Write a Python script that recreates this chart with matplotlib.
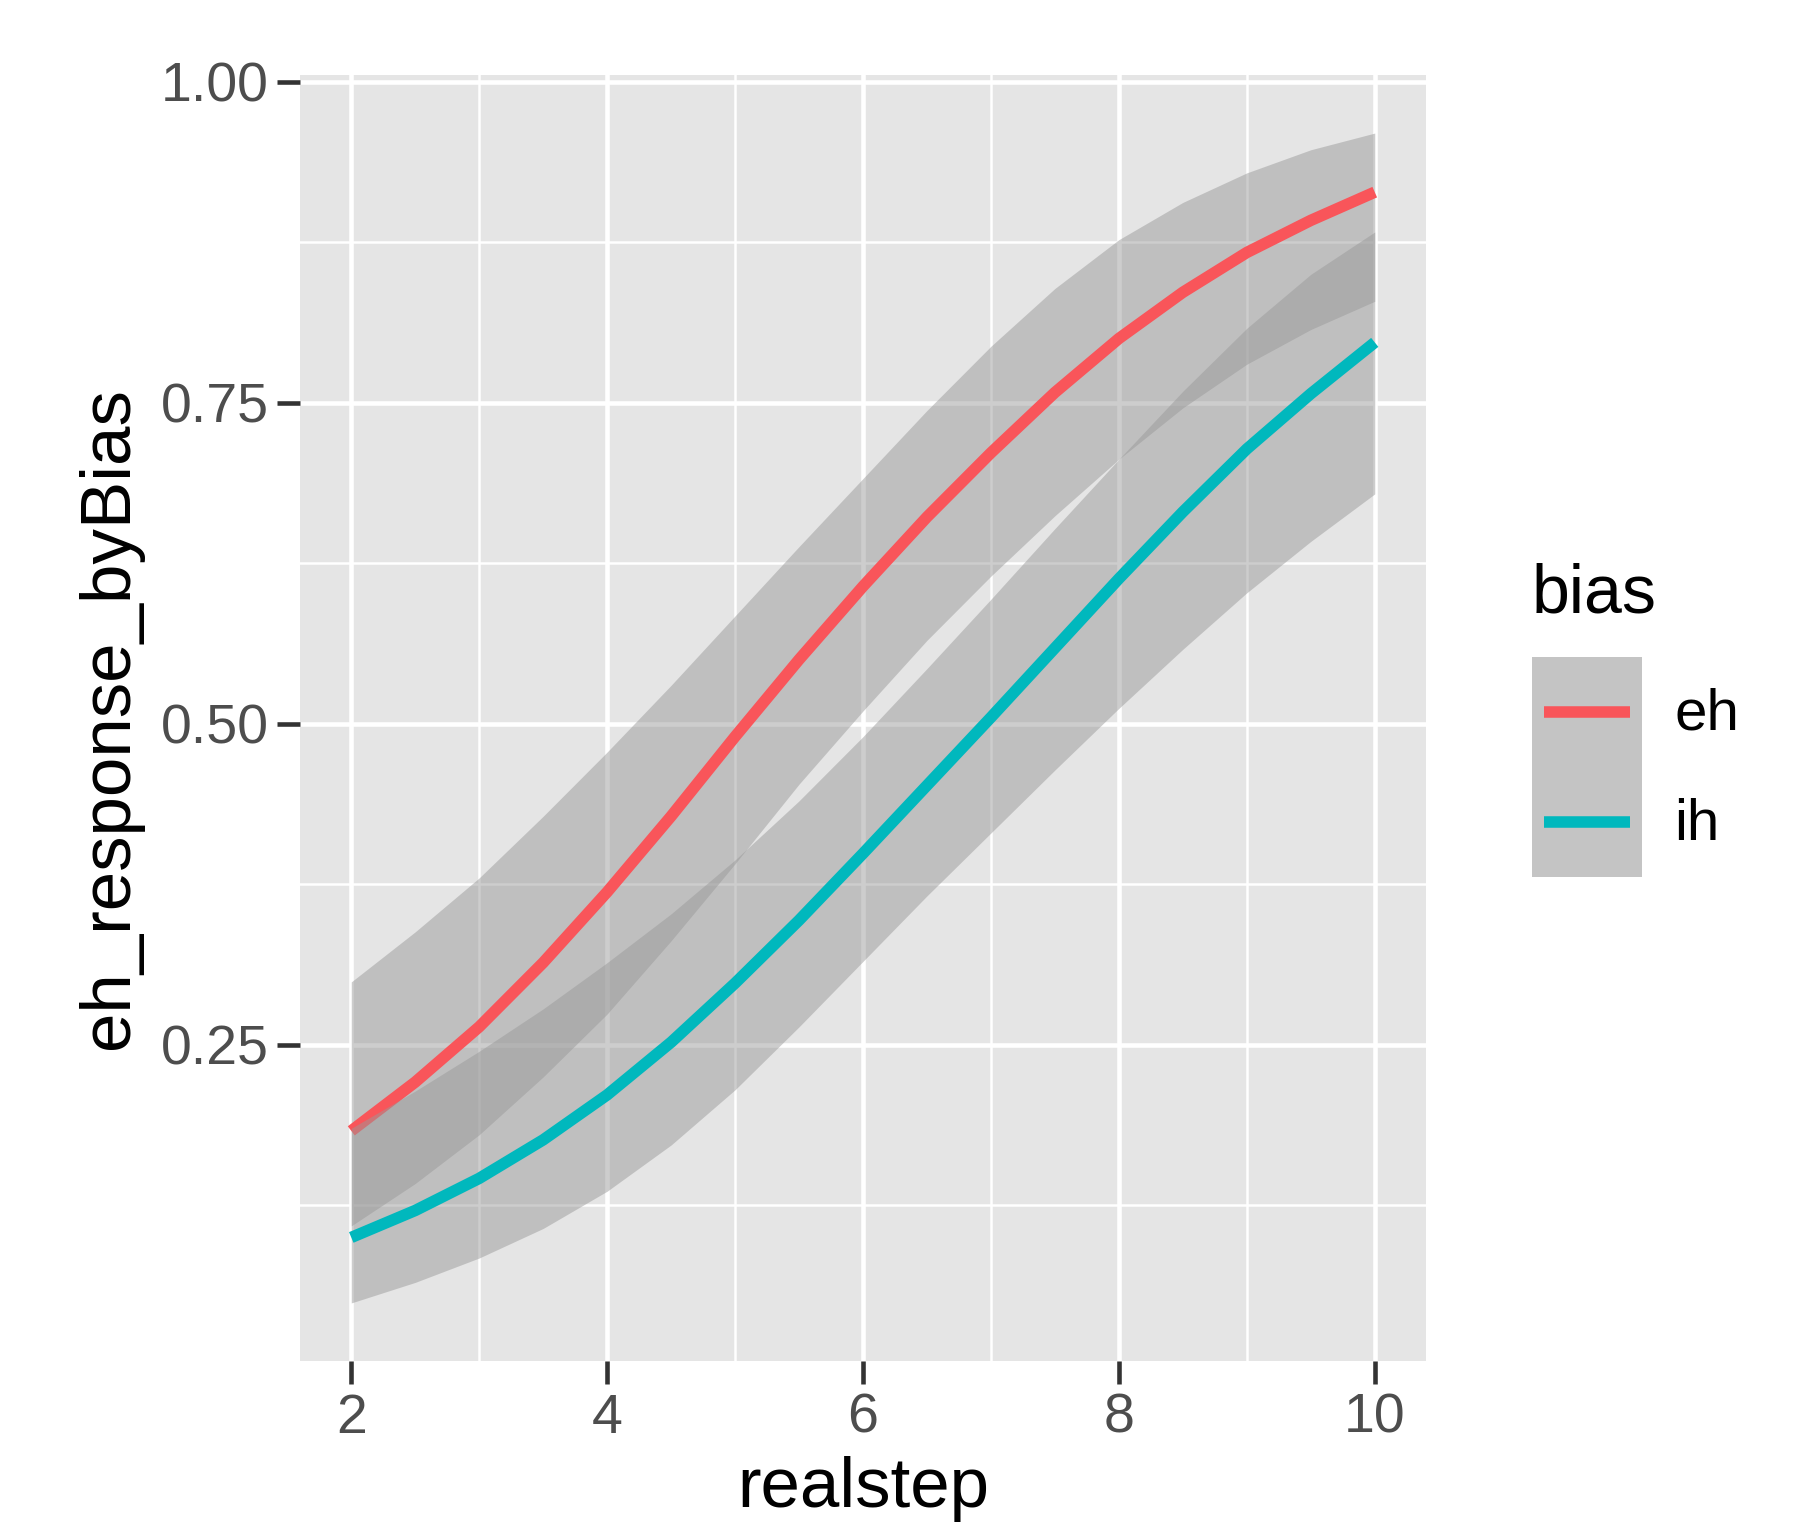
import matplotlib
matplotlib.use('Agg')
import matplotlib.pyplot as plt
from matplotlib.lines import Line2D
from matplotlib.patches import Rectangle
from matplotlib.legend_handler import HandlerBase

plt.rcParams['font.family'] = ['Liberation Sans', 'DejaVu Sans']

# values, step 0.5
realstep = [2, 2.5, 3, 3.5, 4, 4.5, 5, 5.5, 6, 6.5, 7, 7.5, 8, 8.5, 9, 9.5, 10]

eh_fit = [0.183, 0.221, 0.264, 0.314, 0.369, 0.428, 0.490, 0.550, 0.607,
          0.661, 0.711, 0.758, 0.800, 0.836, 0.867, 0.892, 0.914]
eh_upper = [0.299, 0.338, 0.380, 0.428, 0.478, 0.530, 0.584, 0.638, 0.691,
            0.744, 0.794, 0.839, 0.877, 0.906, 0.929, 0.947, 0.960]
eh_lower = [0.109, 0.142, 0.180, 0.225, 0.274, 0.331, 0.391, 0.453, 0.510,
            0.565, 0.615, 0.662, 0.706, 0.746, 0.780, 0.807, 0.829]

ih_fit = [0.100, 0.121, 0.146, 0.176, 0.211, 0.252, 0.298, 0.347, 0.399,
          0.452, 0.505, 0.559, 0.613, 0.665, 0.714, 0.757, 0.797]
ih_upper = [0.185, 0.214, 0.245, 0.278, 0.314, 0.352, 0.394, 0.440, 0.490,
            0.543, 0.597, 0.652, 0.706, 0.759, 0.808, 0.850, 0.883]
ih_lower = [0.049, 0.065, 0.084, 0.107, 0.136, 0.172, 0.215, 0.264, 0.315,
            0.366, 0.415, 0.464, 0.512, 0.558, 0.602, 0.642, 0.679]

groups = ['eh', 'ih']
colors = ['#F9555A', '#00B8BD']
x_ticks = [2, 4, 6, 8, 10]
y_ticks = [0.25, 0.50, 0.75, 1.00]
y_tick_labels = ['0.25', '0.50', '0.75', '1.00']


class KeyHandler(HandlerBase):
    """grey key square with the line centred in it, like ggplot"""
    def create_artists(self, legend, orig_handle, xdescent, ydescent,
                       width, height, fontsize, trans):
        rect = Rectangle((-xdescent, -ydescent), width, height,
                         facecolor='#C4C4C4', edgecolor='none',
                         transform=trans)
        pad = 0.2 * fontsize
        y = -ydescent + height / 2
        line = Line2D([-xdescent + pad, -xdescent + width - pad], [y, y],
                      color=orig_handle.get_color(),
                      lw=orig_handle.get_linewidth(),
                      solid_capstyle='butt', transform=trans)
        return [rect, line]


fig = plt.figure(figsize=(17.97, 15.22), dpi=100)
ax = fig.add_axes([0.167, 0.1055, 0.6265, 0.8455])
ax.set_facecolor('#E5E5E5')
for s in ax.spines.values():
    s.set_visible(False)

series = [(eh_fit, eh_lower, eh_upper), (ih_fit, ih_lower, ih_upper)]
z = 2
for (fit, lo, hi), col in zip(series, colors):
    ax.fill_between(realstep, lo, hi, color='#999999', alpha=0.49,
                    linewidth=0, zorder=z)
    ax.plot(realstep, fit, color=col, lw=8.3, solid_capstyle='butt',
            zorder=z + 1)
    z += 2

# ggplot style expansion
xmin, xmax = min(realstep), max(realstep)
ymin = min(eh_lower + ih_lower)
ymax = max(eh_upper + ih_upper)
ax.set_xlim(xmin - 0.05 * (xmax - xmin), xmax + 0.05 * (xmax - xmin))
ax.set_ylim(ymin - 0.05 * (ymax - ymin), ymax + 0.05 * (ymax - ymin))

ax.set_xticks(x_ticks)
ax.set_xticks([3, 5, 7, 9], minor=True)
ax.set_yticks(y_ticks)
ax.set_yticklabels(y_tick_labels)
ax.set_yticks([0.125, 0.375, 0.625, 0.875], minor=True)
ax.grid(which='major', color='white', lw=3.3, zorder=1)
ax.grid(which='minor', color='white', lw=1.8, zorder=1)
ax.set_axisbelow(True)
ax.tick_params(which='major', length=16.5, width=3.3, color='#333333',
               labelsize=40, labelcolor='#4D4D4D', pad=6)
ax.tick_params(which='minor', length=0)

ax.set_xlabel('realstep', fontsize=51, labelpad=8)
ax.set_ylabel('eh_response_byBias', fontsize=51, labelpad=13)

handles = [Line2D([], [], color=col, lw=8.3) for col in colors]
leg = fig.legend(handles, groups, title='bias', loc='center left',
                 bbox_to_anchor=(0.8525, 0.527), frameon=False,
                 fontsize=42, title_fontsize=49, alignment='left',
                 handlelength=1.886, handleheight=2.525, labelspacing=0,
                 handletextpad=0.55, borderpad=0, borderaxespad=0,
                 handler_map={Line2D: KeyHandler()})
leg._legend_box.sep = 22

fig.savefig('out.png', dpi=100)
